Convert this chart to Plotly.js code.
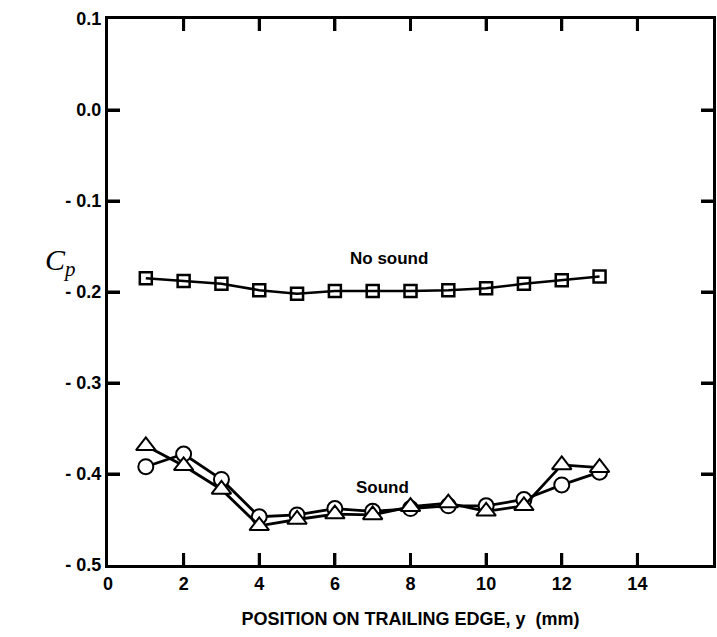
<!DOCTYPE html>
<html>
<head>
<meta charset="utf-8">
<script src="https://cdn.plot.ly/plotly-3.0.1.min.js"></script>
<style>html,body{margin:0;padding:0;background:#fff;}</style>
</head>
<body>
<div id="chart" style="width:717px;height:637px;"></div>
<script>
// Data
const positions = [1, 2, 3, 4, 5, 6, 7, 8, 9, 10, 11, 12, 13];
const noSound = [-0.185, -0.188, -0.191, -0.198, -0.202, -0.199, -0.199, -0.199, -0.198, -0.196, -0.191, -0.187, -0.183];
const soundCircles = [-0.392, -0.378, -0.406, -0.447, -0.445, -0.438, -0.441, -0.438, -0.435, -0.435, -0.428, -0.412, -0.398];
const soundTriangles = [-0.369, -0.391, -0.417, -0.457, -0.450, -0.444, -0.445, -0.436, -0.432, -0.441, -0.435, -0.390, -0.393];
const xTickVals = [0, 2, 4, 6, 8, 10, 12, 14];
const yTickVals = [0.1, 0.0, -0.1, -0.2, -0.3, -0.4, -0.5];
const yTickText = ["0.1", "0.0", "- 0.1", "- 0.2", "- 0.3", "- 0.4", "- 0.5"];

const fontFam = "Liberation Sans, Arial, sans-serif";
const xRange = [0, 16], yRange = [-0.5, 0.1];

// Inward tick marks on all four sides, built from the tick values (length about 12 px)
const plotW = 717 - 108 - 4, plotH = 637 - 19 - 72;
const tLenY = (yRange[1] - yRange[0]) * 12 / plotH;
const tLenX = (xRange[1] - xRange[0]) * 12 / plotW;
const tickX = [], tickY = [];
xTickVals.filter(v => v > xRange[0] && v < xRange[1]).forEach(v => {
  tickX.push(v, v, null, v, v, null);
  tickY.push(yRange[0], yRange[0] + tLenY, null, yRange[1], yRange[1] - tLenY, null);
});
yTickVals.filter(v => v > yRange[0] && v < yRange[1]).forEach(v => {
  tickX.push(xRange[0], xRange[0] + tLenX, null, xRange[1], xRange[1] - tLenX, null);
  tickY.push(v, v, null, v, v, null);
});

const traces = [
  {
    x: tickX, y: tickY, mode: 'lines', name: 'ticks', hoverinfo: 'skip', connectgaps: false,
    line: {color: '#000', width: 3}
  },
  {
    x: positions, y: noSound, mode: 'lines+markers', name: 'No sound',
    line: {color: '#000', width: 2.5},
    marker: {symbol: 'square-open', size: 12, color: '#000', line: {width: 2.5, color: '#000'}}
  },
  {
    x: positions, y: soundCircles, mode: 'lines+markers', name: 'Sound (circles)',
    line: {color: '#000', width: 2.8},
    marker: {symbol: 'circle', size: 15, color: '#fff', line: {width: 2, color: '#000'}}
  },
  {
    x: positions, y: soundTriangles, mode: 'lines+markers', name: 'Sound (triangles)',
    line: {color: '#000', width: 2.8},
    marker: {symbol: 'triangle-up', size: 17, color: '#fff', line: {width: 2, color: '#000'}}
  }
];

const layout = {
  width: 717, height: 637,
  margin: {l: 108, r: 4, t: 19, b: 72},
  showlegend: false,
  font: {family: fontFam, color: '#000'},
  xaxis: {
    range: xRange, tickvals: xTickVals,
    ticks: 'inside', ticklen: 12, tickwidth: 3, tickcolor: '#000',
    showline: true, linewidth: 3, linecolor: '#000', mirror: 'ticks',
    showgrid: false, zeroline: false,
    tickfont: {family: fontFam, size: 18, weight: 'bold'},
    title: {text: 'POSITION ON TRAILING EDGE, y  (mm)', font: {family: fontFam, size: 18, weight: 'bold'}, standoff: 20}
  },
  yaxis: {
    range: yRange, tickvals: yTickVals, ticktext: yTickText,
    ticks: 'inside', ticklen: 12, tickwidth: 3, tickcolor: '#000',
    showline: true, linewidth: 3, linecolor: '#000', mirror: 'ticks',
    showgrid: false, zeroline: false,
    tickfont: {family: fontFam, size: 18, weight: 'bold'}
  },
  annotations: [
    {text: 'No sound', x: 7.43, y: -0.163, xref: 'x', yref: 'y', showarrow: false,
     font: {family: fontFam, size: 17, weight: 'bold'}},
    {text: 'Sound', x: 7.27, y: -0.415, xref: 'x', yref: 'y', showarrow: false,
     font: {family: fontFam, size: 17, weight: 'bold'}},
    {text: '<i>C</i><sub><i>p</i></sub>', x: -0.108, y: 0.555, xref: 'paper', yref: 'paper', showarrow: false,
     font: {family: 'Liberation Serif, serif', size: 30}}
  ]
};

Plotly.newPlot('chart', traces, layout, {displayModeBar: false});
</script>
</body>
</html>
